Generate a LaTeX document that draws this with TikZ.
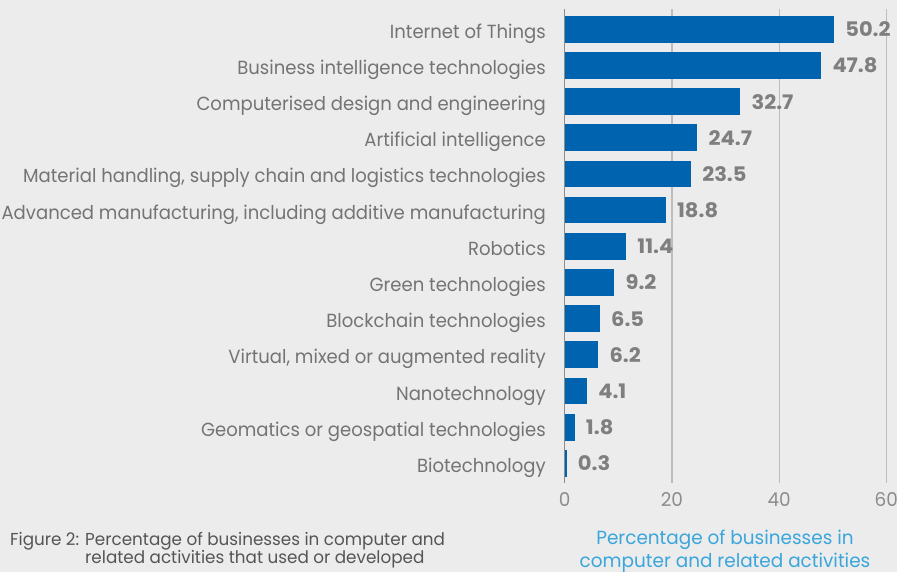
\documentclass[tikz,border=0pt]{standalone}
\usepackage{fontspec}
\usepackage{tikz}
\newfontfamily\chartfont[FakeStretch=0.95]{Poppins}
\newfontfamily\titlefont[FakeStretch=0.97]{Poppins}
\newfontfamily\valuefont[FakeStretch=1.05]{Poppins}
\definecolor{chartbg}{HTML}{ECECEC}
\definecolor{barblue}{HTML}{0063B0}
\definecolor{labelgray}{HTML}{747474}
\definecolor{valgray}{HTML}{7F7F7F}
\definecolor{tickgray}{HTML}{8C8C8C}
\definecolor{gridgray}{HTML}{BDBDBD}
\definecolor{titleblue}{HTML}{3AA6DC}
\definecolor{captiongray}{HTML}{555555}

\begin{document}
\begin{tikzpicture}[x=1pt,y=-1pt,
    bar/.style={
% The shape:
      rectangle, anchor=west, inner sep=0pt,
% The filling:
      fill=barblue, minimum height=26.7pt
    },
    catlabel/.style={
% The text:
      anchor=base east, inner sep=0pt,
      text=labelgray, font=\chartfont\fontsize{19}{22}\selectfont
    },
    vallabel/.style={
      anchor=base west, inner sep=0pt,
      text=valgray, font=\valuefont\bfseries\fontsize{20}{22}\selectfont
    },
    ticklabel/.style={
      anchor=base, inner sep=0pt,
      text=tickgray, font=\titlefont\fontsize{19}{22}\selectfont
    },
    gridline/.style={draw=gridgray, line width=1.2pt},
    zeroline/.style={draw=tickgray, line width=1pt}
  ]
  % background and page size
  \fill[chartbg] (0,0) rectangle (897,572);
  \useasboundingbox (0,0) rectangle (897,572);

  % grid and ticks
  \foreach \t in {20,40,60}
    \draw[gridline] (564.7+\t*5.36,9) -- (564.7+\t*5.36,483);
  \draw[zeroline] (564.7,9) -- (564.7,483);
  \foreach \t in {0,20,40,60}
    \node[ticklabel] (tick-\t) at (564.7+\t*5.36,506) {\t};

  % bars, categories and values
  \foreach \val/\name [count=\i] in {
      50.2/Internet of Things,
      47.8/Business intelligence technologies,
      32.7/Computerised design and engineering,
      24.7/Artificial intelligence,
      23.5/{Material handling, supply chain and logistics technologies},
      18.8/{Advanced manufacturing, including additive manufacturing},
      11.4/Robotics,
      9.2/Green technologies,
      6.5/Blockchain technologies,
      6.2/{Virtual, mixed or augmented reality},
      4.1/Nanotechnology,
      1.8/Geomatics or geospatial technologies,
      0.3/Biotechnology}
  {
    \pgfmathsetmacro\barw{\val*5.36}
    \node[bar, minimum width=\barw pt] (bar-\i) at (564.7,{29.3+36.17*(\i-1)}) {};
    \node[catlabel] (cat-\i) at ([xshift=-18.7pt,yshift=-9pt]bar-\i.west) {\name};
    \node[vallabel] (val-\i) at ([xshift=11pt,yshift=-7.4pt]bar-\i.east) {\val};
  }

  % axis title
  \node[anchor=north, inner sep=0pt, align=center, text=titleblue,
    font=\titlefont\fontsize{19}{23}\selectfont] (axis-title) at (725,530)
    {Percentage of businesses in\\computer and related activities};

  % caption
  \node[anchor=north west, inner sep=0pt, align=left, text=captiongray,
    font=\titlefont\fontsize{17.3}{18.5}\selectfont] (caption) at (10,532)
    {Figure 2: Percentage of businesses in computer and\\\phantom{Figure 2: }related activities that used or developed};
\end{tikzpicture}
\end{document}
